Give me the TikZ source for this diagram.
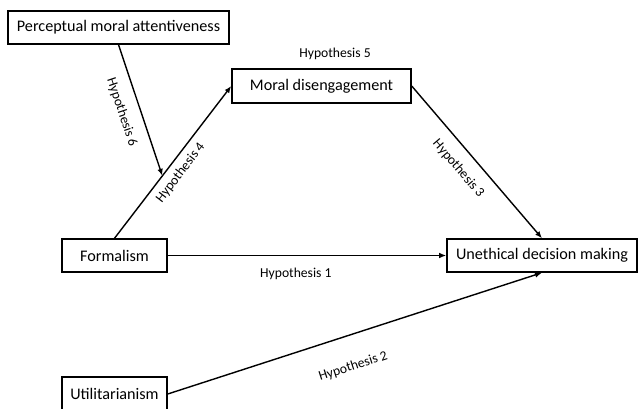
\documentclass[tikz,border=0pt]{standalone}
\usepackage{fontspec}
\setmainfont{Carlito}
\usetikzlibrary{calc, arrows.meta}

\begin{document}
\begin{tikzpicture}[x=0.025cm, y=-0.025cm,
  box/.style={draw, line width=1pt, inner sep=0pt, font=\fontsize{11.5}{14}\selectfont},
  hyp/.style={font=\fontsize{9.7}{12}\selectfont},
  link/.style={line width=1pt, -{Latex[length=5pt, width=4pt]}}]
  \useasboundingbox (0,0) rectangle (638,408);

  \node[box, minimum width=5.525cm, minimum height=0.825cm] (attentive) at (118.5,27.5) {Perceptual moral attentiveness};
  \node[box, minimum width=4.475cm, minimum height=0.85cm] (diseng) at (321.5,86) {Moral disengagement};
  \node[box, minimum width=2.625cm, minimum height=0.825cm] (formal) at (114.5,255.5) {Formalism};
  \node[box, minimum width=4.75cm, minimum height=0.825cm] (unethical) at (542,255.5) {Unethical decision making};
  \node[box, minimum width=2.625cm, minimum height=0.85cm] (utilit) at (114.5,394) {Utilitarianism};

  \node[hyp] (hfive) at (335,54) {Hypothesis 5};

  \draw[link] (formal.north) -- (diseng.west) node[hyp, pos=0.48, sloped, below=1pt] {Hypothesis 4};
  \coordinate (meet) at ($(formal.north)!0.41!(diseng.west)$);
  \draw[link] (attentive.south) -- (meet) node[hyp, pos=0.47, sloped, below=5pt] {Hypothesis 6};
  \draw[link] (diseng.east) -- (unethical.north) node[hyp, pos=0.465, sloped, below=5pt] {Hypothesis 3};
  \draw[link] (formal.east) -- (unethical.west) node[hyp, pos=0.46, below=5pt] {Hypothesis 1};
  \draw[link] (utilit.east) -- (unethical.south) node[hyp, pos=0.47, sloped, below=14pt] {Hypothesis 2};

\end{tikzpicture}
\end{document}
